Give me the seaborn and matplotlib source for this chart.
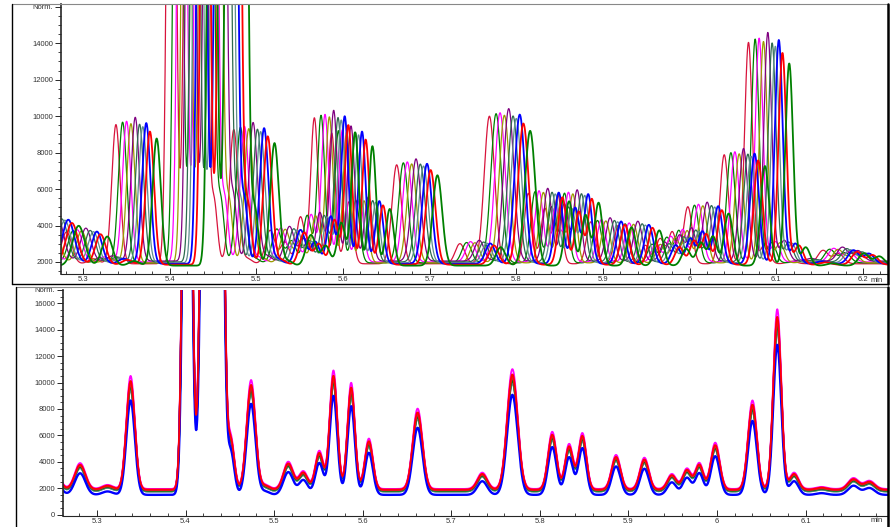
import numpy as np
import matplotlib
matplotlib.use('Agg')
import matplotlib.pyplot as plt
import seaborn as sns
from matplotlib.ticker import MultipleLocator
from matplotlib.lines import Line2D

peak_rt = [5.248, 5.281, 5.312, 5.338, 5.402, 5.425, 5.438, 5.451, 5.474, 5.490,
           5.516, 5.533, 5.551, 5.567, 5.587, 5.607, 5.662, 5.735, 5.769, 5.814,
           5.833, 5.848, 5.886, 5.918, 5.949, 5.966, 5.980, 5.998, 6.040, 6.068,
           6.087, 6.118, 6.154, 6.172]
peak_height = [2600, 1900, 300, 8300, 60000, 90000, 60000, 3800, 8000, 300,
               2000, 1300, 2800, 8700, 7800, 3700, 5900, 1200, 8800, 4200,
               3300, 4100, 2500, 2300, 1100, 1500, 1900, 3400, 6500, 13200,
               1200, 150, 800, 600]
peak_sigma = [0.007, 0.006, 0.006, 0.0048, 0.004, 0.005, 0.004, 0.004, 0.005, 0.005,
              0.0055, 0.005, 0.0045, 0.0043, 0.0042, 0.0045, 0.0055, 0.0055, 0.006, 0.0048,
              0.0045, 0.0045, 0.005, 0.005, 0.005, 0.0048, 0.0045, 0.005, 0.005, 0.0045,
              0.005, 0.006, 0.006, 0.006]

# runs
run_colors = ['#d8143c', '#008000', '#ff00ff', '#9a9a00', '#800080',
              '#2e6b4e', '#5f8f8f', '#0000ff', '#ff0000', '#008000']
top_shift = [0.0, 0.0077, 0.0123, 0.0173, 0.0223, 0.0273, 0.031, 0.035, 0.0392, 0.047]
top_scale = [0.92, 0.93, 0.93, 0.92, 0.95, 0.91, 0.90, 0.93, 0.88, 0.84]
top_base = [1900, 1950, 2000, 1950, 2050, 2000, 1950, 1900, 1850, 1800]
top_lw = [0.9, 0.9, 0.9, 0.9, 0.9, 0.9, 0.9, 1.3, 1.3, 1.3]
bot_scale = [0.97, 0.95, 1.03, 0.96, 0.98, 0.94, 0.93, 0.86, 0.99, 0.95]
bot_base = [1850, 1800, 1950, 1800, 1850, 1750, 1750, 1500, 1900, 1800]
bot_order = [1, 3, 4, 5, 6, 9, 0, 2, 7, 8]

top_ticks = [5.3, 5.4, 5.5, 5.6, 5.7, 5.8, 5.9, 6.0, 6.1, 6.2]
top_ticklabels = ['5.3', '5.4', '5.5', '5.6', '5.7', '5.8', '5.9', '6', '6.1', '6.2']
bot_ticks = [5.3, 5.4, 5.5, 5.6, 5.7, 5.8, 5.9, 6.0, 6.1]
bot_ticklabels = ['5.3', '5.4', '5.5', '5.6', '5.7', '5.8', '5.9', '6', '6.1']

t = np.linspace(5.15, 6.30, 4000)


def trace(shift, scale, base):
    y = np.full_like(t, float(base))
    for rt, h, s in zip(peak_rt, peak_height, peak_sigma):
        y += scale * h * np.exp(-0.5 * ((t - rt - shift) / s) ** 2)
    return y


sns.set_style('ticks')
plt.rcParams['font.family'] = ['Liberation Sans', 'DejaVu Sans']

W, H = 891, 527
fig = plt.figure(figsize=(W / 100, H / 100), dpi=100)


def box(l, tp, r, b):
    return [l / W, 1 - b / H, (r - l) / W, (b - tp) / H]


ax_top = fig.add_axes(box(61, 4, 888, 274))
ax_bot = fig.add_axes(box(63, 290, 888, 516))

for i in range(len(run_colors)):
    sns.lineplot(x=t, y=trace(top_shift[i], top_scale[i], top_base[i]), ax=ax_top,
                 color=run_colors[i], lw=top_lw[i], sort=False, estimator=None)

for i in bot_order:
    lw = 1.7 if i == 7 else 1.3
    sns.lineplot(x=t, y=trace(0.0, bot_scale[i], bot_base[i]), ax=ax_bot,
                 color=run_colors[i], lw=lw, sort=False, estimator=None)

lab_kw = dict(labelsize=5.5, labelcolor='#333333')

ax_top.set_xlim(5.2746, 6.229)
ax_top.set_ylim(1340, 16150)
ax_top.set_xticks(top_ticks, top_ticklabels)
ax_top.set_yticks(list(range(2000, 16001, 2000)),
                  [str(v) for v in range(2000, 14001, 2000)] + ['Norm.'])

ax_bot.set_xlim(5.2617, 6.193)
ax_bot.set_ylim(-100, 17000)
ax_bot.set_xticks(bot_ticks, bot_ticklabels)
ax_bot.set_yticks(list(range(0, 16001, 2000)) + [17000],
                  [str(v) for v in range(0, 16001, 2000)] + ['Norm.'])

for ax in (ax_top, ax_bot):
    ax.xaxis.set_minor_locator(MultipleLocator(0.02))
    ax.yaxis.set_minor_locator(MultipleLocator(500))
    ax.tick_params(axis='x', which='major', direction='in', length=4, width=0.7, pad=1.5, **lab_kw)
    ax.tick_params(axis='x', which='minor', direction='in', length=2.5, width=0.6)
    ax.tick_params(axis='y', which='major', direction='out', length=4, width=0.7, pad=1.5, **lab_kw)
    ax.tick_params(axis='y', which='minor', direction='out', length=2.5, width=0.6)
    ax.spines['top'].set_visible(False)
    ax.spines['right'].set_visible(False)
    ax.spines['left'].set_linewidth(1.2)
    ax.spines['bottom'].set_linewidth(0.8)
    ax.set_xlabel('')
    ax.set_ylabel('')

fig.text(877 / W, 1 - 280 / H, 'min', ha='center', va='center', fontsize=5.5, color='#333333')
fig.text(877 / W, 1 - 521 / H, 'min', ha='center', va='center', fontsize=5.5, color='#333333')


def fline(x0, y0, x1, y1, color='black', lw=1.0):
    fig.add_artist(Line2D([x0 / W, x1 / W], [1 - y0 / H, 1 - y1 / H],
                          transform=fig.transFigure, color=color, lw=lw))


# outer frames
fline(12, 4, 888, 4, color='#888888', lw=0.8)
fline(12, 4, 12, 284, lw=1.0)
fline(12, 284, 888, 284, lw=1.0)
fline(888, 4, 888, 284, lw=1.8)
fline(16, 287, 888, 287, color='#888888', lw=0.8)
fline(16, 287, 16, 527, lw=1.0)
fline(888, 287, 888, 527, lw=1.8)

fig.savefig('out.png', dpi=100)
